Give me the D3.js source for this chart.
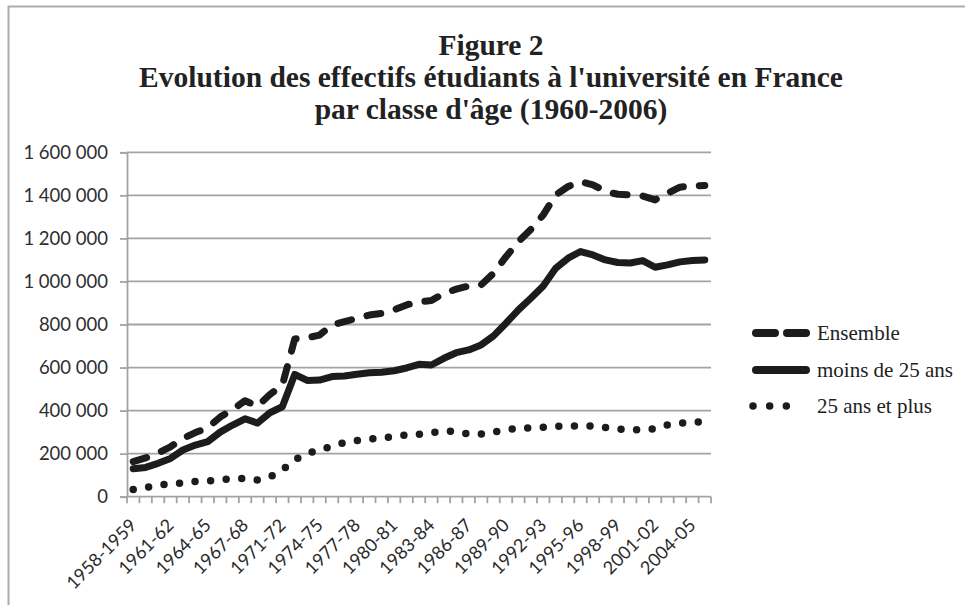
<!DOCTYPE html>
<html><head><meta charset="utf-8">
<script src="https://cdn.jsdelivr.net/npm/d3@7"></script>
<style>body{margin:0;background:#fff}</style>
</head><body><svg id="c" width="965" height="605"></svg>
<script>
const categories = ["1958-1959","1959-60","1960-61","1961-62","1962-63","1963-64","1964-65","1965-66","1966-67","1967-68",
  "1969-70","1970-71","1971-72","1972-73","1973-74","1974-75","1975-76","1976-77","1977-78","1978-79",
  "1979-80","1980-81","1981-82","1982-83","1983-84","1984-85","1985-86","1986-87","1987-88","1988-89",
  "1989-90","1990-91","1991-92","1992-93","1993-94","1994-95","1995-96","1996-97","1997-98","1998-99",
  "1999-00","2000-01","2001-02","2002-03","2003-04","2004-05","2005-06"];
const ensemble = [163000,180000,203000,232000,270000,298000,320000,370000,405000,446000,
  420000,475000,518000,733000,738000,751000,798000,813000,829000,844000,
  852000,868000,891000,906000,911000,945000,964000,979000,984000,1038000,
  1115000,1185000,1242000,1309000,1402000,1441000,1464000,1449000,1418000,1405000,
  1402000,1397000,1379000,1410000,1438000,1444000,1446000];
const moins25 = [130000,136000,155000,178000,217000,240000,256000,300000,333000,362000,
  342000,390000,418000,568000,540000,542000,558000,561000,569000,576000,
  578000,585000,598000,615000,612000,643000,669000,682000,705000,747000,
  806000,868000,922000,979000,1061000,1108000,1139000,1123000,1100000,1088000,
  1086000,1097000,1066000,1077000,1091000,1097000,1100000];
const plus25 = [34000,42000,54000,59000,64000,71000,73000,79000,84000,85000,
  78000,92000,124000,172000,200000,218000,234000,252000,261000,268000,
  273000,280000,287000,290000,298000,305000,303000,291000,291000,300000,
  310000,318000,319000,323000,327000,330000,328000,328000,322000,315000,
  310000,311000,316000,333000,342000,346000,348000];
const yTicks = [0,200000,400000,600000,800000,1000000,1200000,1400000,1600000];
const titleLines = ["Figure 2","Evolution des effectifs étudiants à l'université en France","par classe d'âge (1960-2006)"];
const legendLabels = ["Ensemble","moins de 25 ans","25 ans et plus"];

const svg = d3.select("#c");
const L = 127, R = 711, T = 152.3, B = 496.7;
const x = d3.scaleBand().domain(categories).range([L, R]);
const y = d3.scaleLinear().domain([0, 1600000]).range([B, T]);
const bw = x.bandwidth();
const gridCol = "#a3a3a3", ink = "#1c1c1c";

// frame
svg.append("path").attr("d", `M8.5,605 V6.5 H965`).attr("fill","none").attr("stroke","#ababab").attr("stroke-width",2);

// title
const tt = svg.append("text").attr("text-anchor","middle")
  .style("font-family","'Liberation Serif','Times New Roman',serif").style("font-weight","bold").style("font-size","29.5px").attr("fill","#222");
titleLines.forEach((t,i)=> tt.append("tspan").attr("x",491).attr("y",55+i*32).text(t));

// grid
svg.append("g").selectAll("line").data(yTicks.slice(1)).join("line")
  .attr("x1",L).attr("x2",R).attr("y1",d=>y(d)).attr("y2",d=>y(d))
  .attr("stroke",gridCol).attr("stroke-width",1.8);

// y axis
const fmt = d => d3.format(",")(d).replace(/,/g," ");
const ya = svg.append("g").attr("transform",`translate(${L},0)`)
  .call(d3.axisLeft(y).tickValues(yTicks).tickSize(7).tickPadding(12).tickFormat(fmt));
ya.select(".domain").attr("stroke",gridCol).attr("stroke-width",1.8);
ya.selectAll(".tick line").attr("stroke",gridCol).attr("stroke-width",1.8);
ya.selectAll("text").style("font-family","Lato, sans-serif").style("font-size","18.5px").attr("fill","#2e2e2e");

// x axis
const xa = svg.append("g");
xa.append("line").attr("x1",L).attr("x2",R).attr("y1",B).attr("y2",B).attr("stroke",gridCol).attr("stroke-width",1.8);
const bounds = categories.map(c=>x(c)).concat([R]);
xa.selectAll("line.tk").data(bounds).join("line").attr("class","tk")
  .attr("x1",d=>d).attr("x2",d=>d).attr("y1",B).attr("y2",B+6.5).attr("stroke",gridCol).attr("stroke-width",1.8);
xa.selectAll("text").data(categories.filter((c,i)=>i%3===0)).join("text")
  .attr("transform",d=>`translate(${x(d)+bw/2},522) rotate(-45)`)
  .attr("text-anchor","end").attr("dy","0.35em")
  .style("font-family","Lato, sans-serif").style("font-size","18px").attr("fill","#2a2a2a").text(d=>d);

// series
const line = d3.line().x((d,i)=>x(categories[i])+bw/2).y(d=>y(d));
const series = [
  {vals: ensemble, dash:"14 16", w:7},
  {vals: moins25, dash:null, w:7},
  {vals: plus25, dash:"0 15.6", w:7.5}
];
series.forEach(s=>{
  svg.append("path").attr("d",line(s.vals)).attr("fill","none").attr("stroke",ink)
    .attr("stroke-width",s.w).attr("stroke-linecap","round").attr("stroke-linejoin","round")
    .attr("stroke-dasharray",s.dash);
});

// legend
const legY = [333,370,406];
const legDash = ["19 12", null, "0 16.67"];
legendLabels.forEach((lab,i)=>{
  const g = svg.append("g");
  g.append("line").attr("x1",i===2?753:756).attr("x2",i===2?803:806).attr("y1",legY[i]).attr("y2",legY[i])
    .attr("stroke",ink).attr("stroke-width",i===2?7.5:8).attr("stroke-linecap","round").attr("stroke-dasharray",legDash[i]);
  g.append("text").attr("x",817).attr("y",legY[i]).attr("dy","0.32em")
    .style("font-family","'Liberation Serif','Times New Roman',serif").style("font-size","21px").attr("fill","#222").text(lab);
});
</script></body></html>
